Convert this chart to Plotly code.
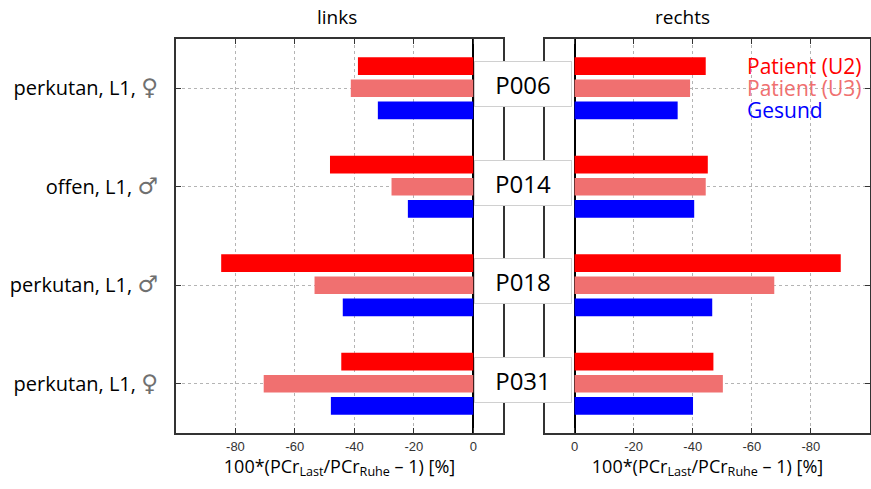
import plotly.graph_objects as go

patients = ["P006", "P014", "P018", "P031"]
descriptions = ["perkutan, L1, ", "offen, L1, ", "perkutan, L1, ", "perkutan, L1, "]
genders = ["♀", "♂", "♂", "♀"]

series_names = ["Patient (U2)", "Patient (U3)", "Gesund"]
series_colors = ["#FF0000", "#F07070", "#0000FF"]

links_u2 = [-38.8, -48.2, -84.8, -44.4]
links_u3 = [-41.2, -27.5, -53.4, -70.5]
links_gesund = [-32.1, -22.0, -43.9, -47.9]

rechts_u2 = [-44.4, -45.1, -90.1, -47.0]
rechts_u3 = [-39.1, -44.4, -67.6, -50.2]
rechts_gesund = [-34.9, -40.5, -46.6, -40.1]

x_ticks = [-80, -60, -40, -20, 0]
x_title = "100*(PCr<sub>Last</sub>/PCr<sub>Ruhe</sub> – 1) [%]"

W, H = 871, 489
FONT = "Open Sans"

fig = go.Figure()
for name, color, lv, rv in zip(series_names, series_colors,
                               [links_u2, links_u3, links_gesund],
                               [rechts_u2, rechts_u3, rechts_gesund]):
    fig.add_trace(go.Bar(y=patients, x=lv, orientation="h", name=name,
                         marker=dict(color=color, line=dict(width=0)),
                         xaxis="x", yaxis="y", showlegend=False))
    fig.add_trace(go.Bar(y=patients, x=rv, orientation="h", name=name,
                         marker=dict(color=color, line=dict(width=0)),
                         xaxis="x2", yaxis="y2", showlegend=False))

ticktext = [f"{d}<span style='color:#707070;font-family:DejaVu Sans;font-size:23px'>{g}</span>"
            for d, g in zip(descriptions, genders)]

axis_common = dict(
    showline=True, linecolor="#333333", linewidth=2, mirror="ticks",
    ticks="inside", ticklen=5, tickcolor="#333333", tickwidth=1,
    showgrid=True, gridcolor="#B4B4B4", griddash="dot", gridwidth=1,
    automargin=False,
)

y_dom = [56 / H, 450 / H]

fig.update_layout(
    width=W, height=H,
    margin=dict(l=0, r=0, t=0, b=0),
    paper_bgcolor="white", plot_bgcolor="white",
    barmode="group", bargap=0.325, bargroupgap=0.2,
    font=dict(family=FONT, color="black"),
    xaxis=dict(domain=[176 / W, 503 / W], anchor="y", range=[-100, 10],
               tickvals=x_ticks, ticktext=[str(v) for v in x_ticks],
               zeroline=True, zerolinecolor="black", zerolinewidth=2,
               tickfont=dict(family="Liberation Sans", size=13, color="#333333"),
               title=dict(text=x_title, font=dict(family=FONT, size=18), standoff=4),
               **axis_common),
    xaxis2=dict(domain=[545 / W, 870 / W], anchor="y2", range=[10, -100],
                tickvals=x_ticks, ticktext=[str(v) for v in x_ticks],
                zeroline=True, zerolinecolor="black", zerolinewidth=2,
                tickfont=dict(family="Liberation Sans", size=13, color="#333333"),
                title=dict(text=x_title, font=dict(family=FONT, size=18), standoff=4),
                **axis_common),
    yaxis=dict(domain=y_dom, anchor="x", type="category",
               categoryorder="array", categoryarray=patients,
               range=[3.5, -0.5], tickvals=patients, ticktext=ticktext,
               tickfont=dict(family=FONT, size=20, color="black"),
               ticklabelstandoff=12, zeroline=False,
               **axis_common),
    yaxis2=dict(domain=y_dom, anchor="x2", type="category",
                categoryorder="array", categoryarray=patients,
                range=[3.5, -0.5], showticklabels=False, zeroline=False,
                side="right",
                **axis_common),
)

annotations = []
# panel titles
annotations.append(dict(text="links", x=337 / W, y=1 - 17 / H, xref="paper", yref="paper",
                        yanchor="middle", showarrow=False, font=dict(size=19, family=FONT)))
annotations.append(dict(text="rechts", x=712 / W, y=1 - 17 / H, xref="paper", yref="paper",
                        yanchor="middle", showarrow=False, font=dict(size=19, family=FONT)))
# patient boxes between the panels
for p in patients:
    annotations.append(dict(text=p, x=522.5 / W, xref="paper", y=p, yref="y", yshift=4,
                            showarrow=False, width=96, height=44,
                            bgcolor="white", bordercolor="#D0D0D0", borderwidth=1, borderpad=0,
                            font=dict(size=24, family=FONT, color="black")))
# legend text
for i, (name, color) in enumerate(zip(series_names, series_colors)):
    annotations.append(dict(text=name, x=745 / W, xanchor="left", xref="paper",
                            y=1 - (66 + 22 * i) / H, yref="paper", yanchor="middle",
                            showarrow=False, font=dict(size=21, family=FONT, color=color)))

fig.update_layout(annotations=annotations)
fig.write_html("out.html")
